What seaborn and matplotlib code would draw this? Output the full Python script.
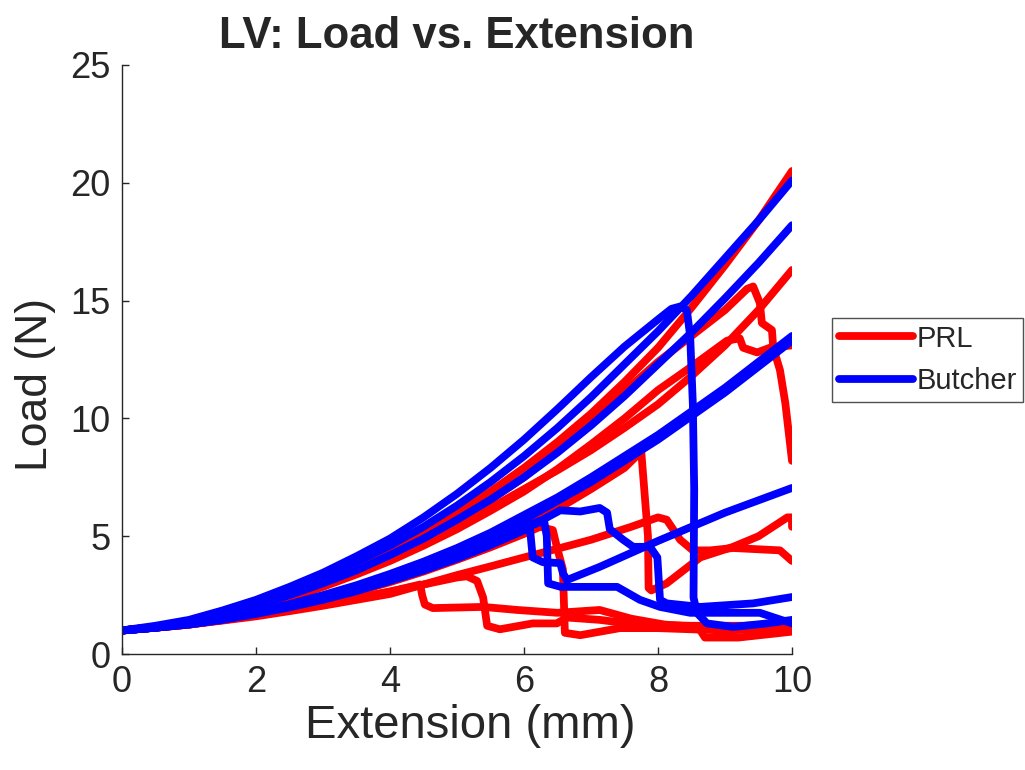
import numpy as np
import pandas as pd
import seaborn as sns
import matplotlib
matplotlib.use("Agg")
import matplotlib.pyplot as plt
from matplotlib.lines import Line2D

# readings along x every 0.5 mm for the smooth part of each curve
xs_half = [0, 0.5, 1, 1.5, 2, 2.5, 3, 3.5, 4, 4.5, 5, 5.5, 6, 6.5, 7, 7.5, 8, 8.5, 9, 9.5, 10]

# PRL curves (extension mm, load N)
prl_x1 = xs_half
prl_y1 = [1.0, 1.15, 1.35, 1.7, 2.1, 2.55, 3.1, 3.7, 4.4, 5.15, 6.0, 6.9, 7.9, 9.0, 10.2, 11.55, 13.0, 14.7, 16.5, 18.4, 20.5]

prl_x2 = xs_half
prl_y2 = [1.0, 1.15, 1.35, 1.65, 2.0, 2.45, 2.95, 3.5, 4.1, 4.8, 5.5, 6.2, 7.0, 7.8, 8.65, 9.6, 10.6, 11.8, 13.1, 14.6, 16.3]

prl_x3 = xs_half[:19] + [9.33, 9.42, 9.52, 9.55, 9.7, 9.72, 9.82, 9.9, 10]
prl_y3 = [1.0, 1.15, 1.33, 1.65, 2.05, 2.5, 3.0, 3.55, 4.2, 4.9, 5.7, 6.55, 7.5, 8.65, 9.9, 11.15, 12.4, 13.5, 14.6,
          15.5, 15.6, 14.9, 14.05, 13.75, 13.0, 12.05, 10.65, 8.2]

prl_x4 = xs_half[:18] + [9.03, 9.22, 9.27, 9.48, 9.67, 10]
prl_y4 = [1.0, 1.14, 1.3, 1.6, 1.95, 2.38, 2.85, 3.38, 3.95, 4.6, 5.3, 6.08, 6.9, 7.85, 8.9, 10.0, 11.2, 12.2,
          13.3, 13.4, 13.0, 12.8, 13.0, 13.1]

prl_x5 = xs_half[:15] + [7.5, 7.75, 7.85, 7.86, 7.9, 8.13, 8.63, 9.12, 9.5, 9.93, 10, 10]
prl_y5 = [1.0, 1.12, 1.25, 1.45, 1.7, 2.0, 2.35, 2.72, 3.15, 3.62, 4.15, 4.75, 5.4, 6.15, 7.0,
          7.9, 8.6, 5.0, 2.8, 2.7, 3.0, 4.1, 4.55, 5.0, 5.8, 5.8, 5.4]

prl_x6 = xs_half[:15] + [7.6, 8.0, 8.13, 8.33, 8.52, 8.78, 9.12, 9.82, 10]
prl_y6 = [1.0, 1.12, 1.25, 1.42, 1.6, 1.82, 2.05, 2.3, 2.55, 2.95, 3.35, 3.72, 4.1, 4.47, 4.85,
          5.4, 5.8, 5.7, 4.85, 4.4, 4.4, 4.5, 4.4, 3.95]

prl_x7 = xs_half[:9] + [4.45, 4.48, 4.52, 4.64, 5.39, 5.9, 6.5, 7.13, 7.6, 8.1, 8.6, 8.7, 9.2, 10]
prl_y7 = [1.0, 1.12, 1.26, 1.44, 1.64, 1.88, 2.12, 2.38, 2.65,
          2.95, 2.5, 2.1, 1.95, 2.0, 1.87, 1.75, 1.87, 1.5, 1.25, 1.15, 0.7, 0.7, 0.95]

prl_x8 = xs_half[:11] + [5.15, 5.3, 5.39, 5.45, 5.64, 6.13, 6.49, 6.64, 7.13, 7.7, 8.5, 9.3, 10]
prl_y8 = [1.0, 1.12, 1.26, 1.44, 1.64, 1.88, 2.12, 2.38, 2.65, 2.95, 3.25,
          3.3, 3.1, 2.4, 1.2, 1.05, 1.3, 1.3, 1.55, 1.45, 1.25, 1.2, 1.2, 1.3]

prl_x9 = xs_half[:13] + [6.24, 6.43, 6.49, 6.58, 6.61, 6.84, 7.43, 8.0, 9.0, 10]
prl_y9 = [1.0, 1.12, 1.25, 1.45, 1.7, 1.98, 2.3, 2.65, 3.05, 3.5, 4.0, 4.53, 5.1,
          5.4, 5.26, 4.55, 3.6, 0.9, 0.8, 1.1, 1.1, 1.0, 1.1]

# Butcher curves
but_x1 = xs_half
but_y1 = [1.0, 1.15, 1.4, 1.75, 2.2, 2.7, 3.3, 3.9, 4.6, 5.4, 6.3, 7.3, 8.4, 9.6, 10.9, 12.3, 13.7, 15.2, 16.8, 18.4, 20.1]

but_x2 = xs_half
but_y2 = [1.0, 1.15, 1.35, 1.65, 2.05, 2.5, 3.0, 3.55, 4.2, 4.9, 5.7, 6.55, 7.5, 8.55, 9.7, 10.95, 12.3, 13.65, 15.1, 16.6, 18.2]

but_x3 = xs_half
but_y3 = [1.0, 1.12, 1.3, 1.52, 1.8, 2.12, 2.5, 2.92, 3.4, 3.92, 4.5, 5.15, 5.9, 6.65, 7.5, 8.4, 9.3, 10.3, 11.3, 12.4, 13.5]

but_x4 = xs_half
but_y4 = [1.0, 1.12, 1.28, 1.5, 1.75, 2.07, 2.42, 2.82, 3.28, 3.8, 4.35, 4.98, 5.7, 6.5, 7.3, 8.2, 9.1, 10.1, 11.1, 12.2, 13.3]

but_x5 = xs_half[:17] + [8.2, 8.33, 8.43, 8.48, 8.52, 8.54, 8.53, 8.58, 8.73, 9.12, 9.63, 10]
but_y5 = [1.0, 1.2, 1.45, 1.85, 2.3, 2.85, 3.45, 4.15, 4.9, 5.8, 6.8, 7.9, 9.1, 10.4, 11.75, 13.05, 14.2,
          14.65, 14.75, 14.6, 13.5, 10.6, 7.0, 2.4, 1.75, 1.3, 1.15, 1.3, 1.45]

but_x6 = xs_half[:13] + [6.28, 6.54, 6.84, 7.13, 7.24, 7.28, 7.48, 7.63, 7.88, 7.99, 8.03, 8.13, 8.63, 9.42, 10]
but_y6 = [1.0, 1.12, 1.27, 1.48, 1.75, 2.05, 2.4, 2.78, 3.2, 3.68, 4.2, 4.78, 5.4,
          5.7, 6.1, 6.05, 6.2, 6.0, 5.3, 4.85, 4.55, 4.55, 4.1, 2.3, 2.15, 2.0, 2.15, 2.42]

but_x7 = xs_half[:13] + [6.09, 6.13, 6.28, 6.54, 6.58, 6.64, 7.13, 8.0, 9.0, 10]
but_y7 = [1.0, 1.12, 1.25, 1.45, 1.7, 1.98, 2.3, 2.67, 3.1, 3.55, 4.05, 4.62, 5.25,
          5.3, 4.1, 3.9, 3.86, 3.44, 3.14, 3.7, 4.8, 6.0, 7.05]

but_x8 = xs_half[:13] + [6.3, 6.34, 6.36, 6.55, 7.39, 7.73, 8.03, 8.48, 9.52, 10]
but_y8 = [1.0, 1.12, 1.28, 1.5, 1.75, 2.03, 2.35, 2.72, 3.15, 3.62, 4.15, 4.72, 5.35,
          5.65, 5.0, 3.0, 2.85, 2.85, 2.3, 2.0, 1.75, 1.75, 1.3]

prl_curves = [(prl_x1, prl_y1), (prl_x2, prl_y2), (prl_x3, prl_y3), (prl_x4, prl_y4),
              (prl_x5, prl_y5), (prl_x6, prl_y6), (prl_x7, prl_y7), (prl_x8, prl_y8),
              (prl_x9, prl_y9)]
but_curves = [(but_x1, but_y1), (but_x2, but_y2), (but_x3, but_y3), (but_x4, but_y4),
              (but_x5, but_y5), (but_x6, but_y6), (but_x7, but_y7), (but_x8, but_y8)]

frames = []
for name, curves in [("PRL", prl_curves), ("Butcher", but_curves)]:
    for i, (xs, ys) in enumerate(curves):
        frames.append(pd.DataFrame({"x": xs, "y": ys, "group": name, "curve": f"{name}{i}"}))
df = pd.concat(frames, ignore_index=True)

sns.set_style("ticks")
plt.rcParams["font.family"] = ["Liberation Sans", "DejaVu Sans"]
dark = "#262626"

fig = plt.figure(figsize=(10.25, 7.7), dpi=100)
ax = fig.add_axes([0.119, 0.1506, 0.6537, 0.765])

lw = 5.6
sns.lineplot(data=df, x="x", y="y", hue="group", units="curve", estimator=None,
             sort=False, hue_order=["PRL", "Butcher"],
             palette={"PRL": "#ff0000", "Butcher": "#0000ff"},
             linewidth=lw, legend=False, ax=ax)
for line in ax.get_lines():
    line.set_solid_joinstyle("round")
    line.set_solid_capstyle("round")

ax.set_xlim(0, 10)
ax.set_ylim(0, 25)
ax.set_xticks([0, 2, 4, 6, 8, 10])
ax.set_yticks([0, 5, 10, 15, 20, 25])
ax.tick_params(direction="in", length=5, width=1, colors=dark, labelsize=26, pad=8)
for s in ["top", "right"]:
    ax.spines[s].set_visible(False)
for s in ["left", "bottom"]:
    ax.spines[s].set_color(dark)
    ax.spines[s].set_linewidth(1)

ax.set_title("LV: Load vs. Extension", fontsize=31.5, fontweight="bold", pad=12)
ax.set_xlabel("Extension (mm)", fontsize=34, color=dark)
ax.set_ylabel("Load (N)", fontsize=32, color=dark)
ax.xaxis.set_label_coords(0.52, -0.085)
ax.yaxis.set_label_coords(-0.098, 0.458)

handles = [Line2D([], [], color="#ff0000", lw=lw), Line2D([], [], color="#0000ff", lw=lw)]
leg = ax.legend(handles, ["PRL", "Butcher"], loc="upper left", bbox_to_anchor=(1.06, 0.570),
                fontsize=21, frameon=True, fancybox=False, handlelength=2.55,
                handletextpad=0.12, borderpad=0.22, labelspacing=0.5, borderaxespad=0)
leg.get_frame().set_edgecolor(dark)
leg.get_frame().set_linewidth(1)

fig.savefig("out.png", dpi=100)
